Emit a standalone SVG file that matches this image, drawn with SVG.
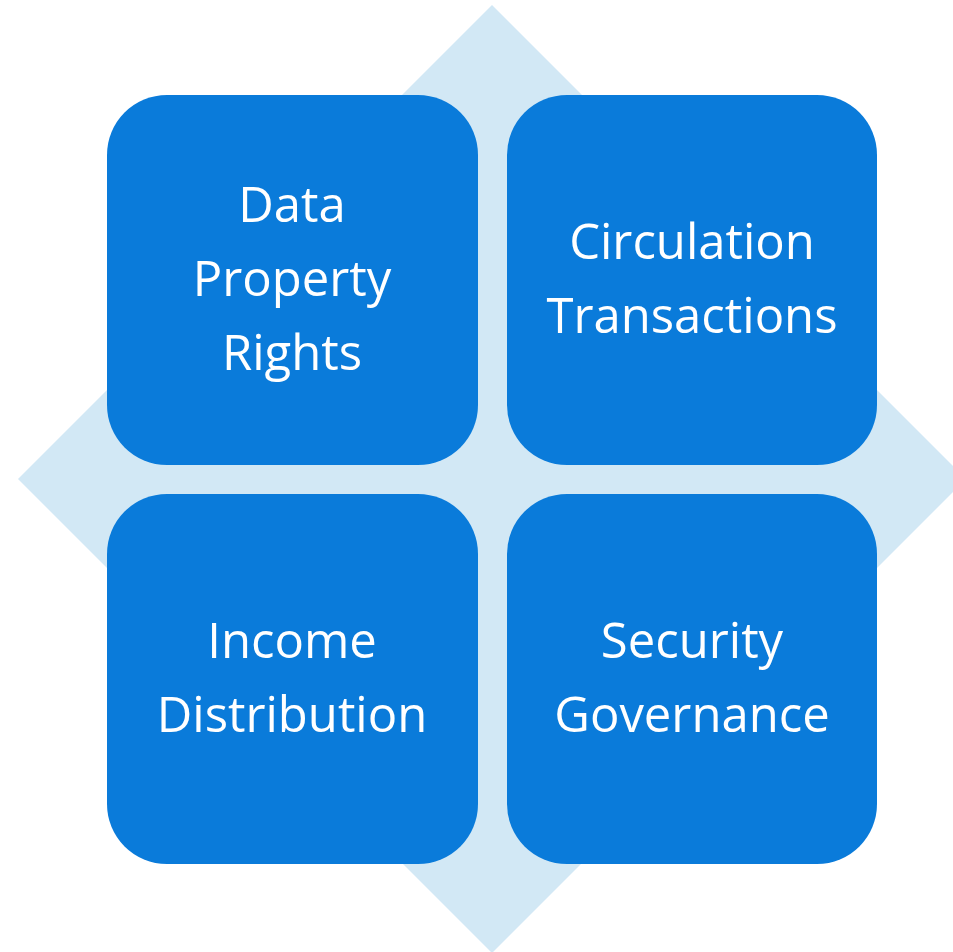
<svg xmlns="http://www.w3.org/2000/svg" width="953" height="952" viewBox="0 0 953 952">
<style>
.box{fill:#0A7BDA}
.t{fill:#fff;font-family:"Open Sans","Noto Sans",sans-serif;font-size:49px;text-anchor:middle}
</style>
<rect width="953" height="952" fill="#fff"/>
<polygon points="492,5 966,479 492,953 18,479" fill="#D2E8F5"/>
<g id="connectors"/>
<g id="node-data-property-rights">
<rect class="box" x="107" y="95" width="371" height="370" rx="60"/>
<text class="t" x="292" y="222">Data</text>
<text class="t" x="292" y="296">Property</text>
<text class="t" x="292" y="370">Rights</text>
</g>
<g id="node-circulation-transactions">
<rect class="box" x="507" y="95" width="370" height="370" rx="60"/>
<text class="t" x="692" y="259">Circulation</text>
<text class="t" x="692" y="333">Transactions</text>
</g>
<g id="node-income-distribution">
<rect class="box" x="107" y="494" width="371" height="370" rx="60"/>
<text class="t" x="292" y="658">Income</text>
<text class="t" x="292" y="732">Distribution</text>
</g>
<g id="node-security-governance">
<rect class="box" x="507" y="494" width="370" height="370" rx="60"/>
<text class="t" x="692" y="658">Security</text>
<text class="t" x="692" y="732">Governance</text>
</g>
</svg>
